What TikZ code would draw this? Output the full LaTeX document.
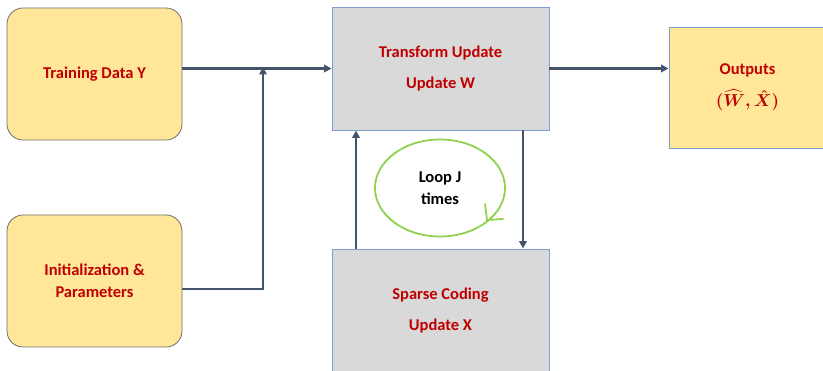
\documentclass[tikz,border=0pt]{standalone}
\usepackage{fontspec}
\usepackage{amsmath}
\setmainfont{Carlito}
\usetikzlibrary{arrows.meta,positioning,shapes.geometric}
\definecolor{yfill}{HTML}{FFE699}
\definecolor{yborder}{HTML}{6F6F6F}
\definecolor{gfill}{HTML}{D9D9D9}
\definecolor{bborder}{HTML}{7F9FCF}
\definecolor{txtred}{HTML}{C00000}
\definecolor{arr}{HTML}{44546A}
\definecolor{loopgreen}{HTML}{92D050}
\newcommand{\outmath}{\ensuremath{\boldsymbol{(\widehat{W},\hat{X})}}}
\tikzset{
  x=1pt,y=-1pt,
  ybox/.style={draw=yborder,fill=yfill,rounded corners=16pt,line width=0.8pt,minimum width=175pt,minimum height=132pt,inner sep=0pt,align=center,text=txtred,font=\bfseries\fontsize{16.5}{22}\selectfont},
  gbox/.style={draw=bborder,fill=gfill,line width=0.9pt,minimum width=217pt,minimum height=123pt,inner sep=0pt,align=center,text=txtred,font=\bfseries\fontsize{16.5}{31}\selectfont},
  conn/.style={draw=arr,line width=2.6pt,-{Triangle[length=7.5pt,width=7.5pt]}}
}
\begin{document}
\begin{tikzpicture}
\useasboundingbox (0,0) rectangle (823,371);
\node[ybox] (train) at (94.5,74) {Training Data Y};
\node[ybox] (init) at (94.5,281) {Initialization \&\\Parameters};
\node[gbox] (tr) at (440.5,68.5) {Transform Update\\Update W};
\node[gbox] (sp) at (440.5,310.5) {Sparse Coding\\Update X};
\node[draw=bborder,fill=yfill,line width=0.9pt,minimum width=157pt,minimum height=121pt,inner sep=0pt,align=center,text=txtred,font=\bfseries\fontsize{16.5}{32}\selectfont] (out) at (747.5,87.5) {Outputs\\\outmath};
\coordinate (j) at (263,67);
\draw[conn] (tr.west -| train.east) -- (tr.west);
\draw[conn] ([yshift=-8pt]init.east) -| (j);
\draw[conn] (tr.east) -- (tr.east -| out.west);
\draw[conn] ([xshift=-84.5pt]sp.north) -- ([xshift=-84.5pt]tr.south);
\draw[conn] ([xshift=82.5pt]tr.south) -- ([xshift=82.5pt]sp.north);
\node[draw=loopgreen,line width=1.8pt,ellipse,minimum width=130pt,minimum height=97pt,inner sep=0pt,align=center,font=\bfseries\fontsize{16.5}{22}\selectfont] (loop) at (440,188) {Loop J\\times};
\draw[loopgreen,line width=1.8pt,line cap=round] (485,204) -- (487,220) -- (503,219);
\end{tikzpicture}
\end{document}
